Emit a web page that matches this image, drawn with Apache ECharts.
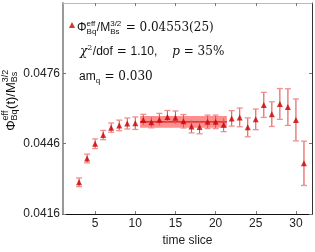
<!DOCTYPE html>
<html>
<head>
<meta charset="utf-8">
<script src="https://cdn.jsdelivr.net/npm/echarts@6/dist/echarts.min.js"></script>
<style>html,body{margin:0;padding:0;background:#fff}#c{width:315px;height:252px}</style>
</head>
<body>
<div id="c"></div>
<script>
// ---- data ----
const timeSlices = [3,4,5,6,7,8,9,10,11,12,13,14,15,16,17,18,19,20,21,22,23,24,25,26,27,28,29,30,31];
const phiEff = [0.042956,0.043971,0.044600,0.044970,0.045286,0.045381,0.045463,0.045476,0.045615,0.045516,
                0.045627,0.045738,0.045710,0.045558,0.045340,0.045311,0.045533,0.045533,0.045410,0.045681,
                0.045722,0.045299,0.045640,0.046256,0.045862,0.046297,0.046162,0.045615,0.043766];
const phiErr = [0.000185,0.000185,0.000205,0.000197,0.000197,0.000226,0.000234,0.000267,0.000240,0.000238,
                0.000267,0.000279,0.000288,0.000288,0.000279,0.000288,0.000288,0.000288,0.000296,0.000329,
                0.000399,0.000403,0.000440,0.000534,0.000526,0.000658,0.000781,0.000892,0.000945];
const fitRange = [10.6, 21.4];
const fitValue = 0.04553;
const fitError = 0.00025;
const xTicks = [5,10,15,20,25,30];
const yTicks = [0.0416,0.0446,0.0476];

const SANS = '"Liberation Sans", Arial, sans-serif';
const SERIF = '"DejaVu Serif", "Liberation Serif", serif';
const ctx = document.createElement('canvas').getContext('2d');
function tw(t, font){ ctx.font = font; return ctx.measureText(t).width; }

// build math-like row of text pieces
function mathRow(pieces, x0, y, color, supOff, subOff){
  const els = [];
  let x = x0;
  pieces.forEach(p => {
    if (p.gap) { x += p.gap; return; }
    if (p.t !== undefined) {
      els.push({type:'text', x:x, y:y, style:{text:p.t, font:p.f, fill:color, align:'left', verticalAlign:'middle'}});
      x += tw(p.t, p.f);
    } else {
      let wmax = 0;
      if (p.sup) { els.push({type:'text', x:x, y:y-supOff, style:{text:p.sup, font:p.f, fill:color, align:'left', verticalAlign:'middle'}}); wmax = Math.max(wmax, tw(p.sup,p.f)); }
      if (p.sub) { els.push({type:'text', x:x, y:y+subOff, style:{text:p.sub, font:p.f, fill:color, align:'left', verticalAlign:'middle'}}); wmax = Math.max(wmax, tw(p.sub,p.f)); }
      x += wmax + 0.5;
    }
  });
  return {els, width: x - x0};
}
const S12 = '12px ' + SANS, S8 = '8px ' + SANS, R12 = '12px ' + SERIF, I12 = 'italic 12px ' + SERIF, R8 = '8px ' + SERIF;
const S13 = '13px ' + SANS, S9 = '9px ' + SANS;

const line1 = mathRow([
  {t:'Φ', f:S12}, {sup:'eff', sub:'Bq', f:S8}, {t:'/M', f:S12}, {sup:'3/2', sub:'Bs', f:S8},
  {t:' = 0.04553(25)', f:R12}
], 77, 28, '#111', 4.5, 3.5);
const line2 = mathRow([
  {t:'χ', f:I12}, {sup:'2', f:R8}, {t:'/dof', f:S12}, {t:' = ', f:R12}, {t:'1.10,', f:S12},
  {gap:15}, {t:'p', f:I12}, {t:' = 35%', f:R12}
], 80, 52, '#111', 4.5, 3.5);
const line3 = mathRow([
  {t:'am', f:S12}, {sub:'q', f:S8}, {t:' = 0.030', f:R12}
], 79, 77, '#111', 4.5, 3.5);
const yRow = mathRow([
  {t:'Φ', f:S13}, {sup:'eff', sub:'Bq', f:S9}, {t:'(t)/M', f:S13}, {sup:'3/2', sub:'Bs', f:S9}
], 0, 0, '#111', 5, 4);
yRow.els.forEach(e => { e.x -= yRow.width/2; });

const points = timeSlices.map((t,i) => [t, phiEff[i]]);
const bars = timeSlices.map((t,i) => [t, phiEff[i]-phiErr[i], phiEff[i]+phiErr[i]]);

const chart = echarts.init(document.getElementById('c'), null, {renderer:'canvas'});
chart.setOption({
  animation: false,
  backgroundColor: '#fff',
  grid: {left:63, right:3, top:3, bottom:30, containLabel:false},
  legend: {
    data:['data'], left:69, top:22, icon:'triangle', itemWidth:6, itemHeight:6,
    formatter: () => '', textStyle:{fontSize:1}, padding:0, itemGap:0, selectedMode:false
  },
  xAxis: [{
    type:'value', min:1, max:32, position:'bottom',
    axisLine:{show:true, lineStyle:{color:'#111', width:1}},
    axisTick:{show:true, inside:true, length:3, customValues:xTicks, lineStyle:{color:'#777'}},
    axisLabel:{show:true, customValues:xTicks, fontSize:12, fontFamily:SANS, color:'#222', margin:4},
    splitLine:{show:false},
    name:'time slice', nameLocation:'middle', nameGap:16,
    nameTextStyle:{fontSize:12, fontFamily:SANS, color:'#222'}
  },{
    type:'value', min:1, max:32, position:'top',
    axisLine:{show:true, lineStyle:{color:'#bbb', width:1}},
    axisTick:{show:true, inside:true, length:3, customValues:xTicks, lineStyle:{color:'#777'}},
    axisLabel:{show:false}, splitLine:{show:false}
  }],
  yAxis: [{
    type:'value', min:0.0416, max:0.0506, position:'left',
    axisLine:{show:true, lineStyle:{color:'#999', width:2}},
    axisTick:{show:true, inside:true, length:3, customValues:yTicks, lineStyle:{color:'#777'}},
    axisLabel:{show:true, customValues:yTicks, fontSize:12, fontFamily:SANS, color:'#222', margin:3,
      formatter: v => v.toFixed(4)},
    splitLine:{show:false}
  },{
    type:'value', min:0.0416, max:0.0506, position:'right',
    axisLine:{show:true, lineStyle:{color:'#333', width:1}},
    axisTick:{show:true, inside:true, length:3, customValues:yTicks, lineStyle:{color:'#777'}},
    axisLabel:{show:false}, splitLine:{show:false}
  }],
  graphic: [
    {type:'group', children: line1.els.concat(line2.els, line3.els)},
    {type:'group', x:11, y:100, rotation:Math.PI/2, children: yRow.els}
  ],
  series: [
    {
      type:'custom', name:'fit', z:1,
      data:[[fitRange[0], fitRange[1], fitValue, fitError]],
      encode:{x:[0,1], y:[2]},
      renderItem(params, api){
        const x0 = api.value(0), x1 = api.value(1), v = api.value(2), e = api.value(3);
        const a = api.coord([x0, v+e]), b = api.coord([x1, v-e]);
        const c0 = api.coord([x0, v]), c1 = api.coord([x1, v]);
        return {type:'group', children:[
          {type:'rect', shape:{x:a[0], y:a[1], width:b[0]-a[0], height:b[1]-a[1]}, style:{fill:'rgba(255,60,60,0.58)'}},
          {type:'line', shape:{x1:c0[0], y1:c0[1], x2:c1[0], y2:c1[1]}, style:{stroke:'#d81818', lineWidth:1.2}}
        ]};
      }
    },
    {
      type:'custom', name:'err', z:2,
      data: bars, encode:{x:[0], y:[1,2]},
      renderItem(params, api){
        const x = api.value(0), lo = api.value(1), hi = api.value(2);
        const p1 = api.coord([x, hi]), p2 = api.coord([x, lo]);
        const hw = 3;
        return {type:'group', children:[
          {type:'line', shape:{x1:p1[0], y1:p1[1], x2:p2[0], y2:p2[1]}, style:{stroke:'#e35555', lineWidth:1.1}},
          {type:'line', shape:{x1:p1[0]-hw, y1:p1[1], x2:p1[0]+hw, y2:p1[1]}, style:{stroke:'#ee9090', lineWidth:1.3}},
          {type:'line', shape:{x1:p2[0]-hw, y1:p2[1], x2:p2[0]+hw, y2:p2[1]}, style:{stroke:'#ee9090', lineWidth:1.3}}
        ]};
      }
    },
    {
      type:'scatter', name:'data', z:3, data: points,
      symbol:'triangle', symbolSize:6,
      itemStyle:{color:'#cc0000'}
    }
  ]
});
</script>
</body>
</html>
